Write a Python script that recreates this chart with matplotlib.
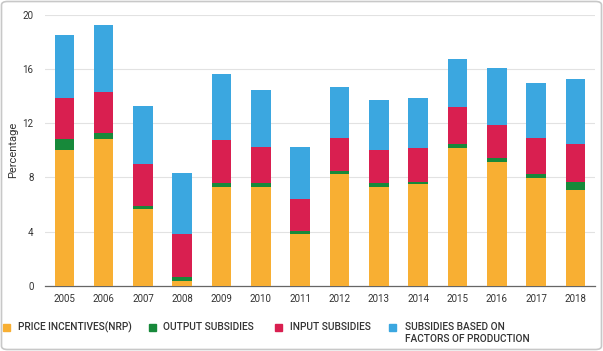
import matplotlib
matplotlib.use("Agg")
import matplotlib.pyplot as plt
import numpy as np
from matplotlib.patches import Rectangle, FancyBboxPatch

years = ["2005", "2006", "2007", "2008", "2009", "2010", "2011",
         "2012", "2013", "2014", "2015", "2016", "2017", "2018"]
price_incentives = [10.0, 10.85, 5.65, 0.37, 7.27, 7.27, 3.83,
                    8.23, 7.27, 7.49, 10.2, 9.16, 7.96, 7.1]
output_subsidies = [0.84, 0.45, 0.25, 0.27, 0.3, 0.3, 0.2,
                    0.27, 0.3, 0.18, 0.27, 0.27, 0.3, 0.57]
input_subsidies = [3.02, 3.0, 3.09, 3.19, 3.19, 2.7, 2.38,
                   2.43, 2.43, 2.5, 2.72, 2.46, 2.67, 2.8]
factor_subsidies = [4.67, 4.91, 4.3, 4.47, 4.87, 4.15, 3.86,
                    3.76, 3.69, 3.66, 3.54, 4.2, 4.03, 4.76]
series_labels = ["PRICE INCENTIVES(NRP)", "OUTPUT SUBSIDIES", "INPUT SUBSIDIES",
                 "SUBSIDIES BASED ON\nFACTORS OF PRODUCTION"]
colors = ["#F8AF33", "#17893A", "#D91F50", "#3BA7E0"]
yticks = [0, 4, 8, 12, 16, 20]

W, H = 603, 351
fig = plt.figure(figsize=(W / 100, H / 100), dpi=100)
plt.rcParams['font.family'] = ['Roboto', 'DejaVu Sans']

ax = fig.add_axes([44.7 / W, 1 - 286 / H, (595 - 44.7) / W, (286 - 14.7) / H])
x = np.arange(len(years))
bottom = np.zeros(len(years))
for vals, c in zip([price_incentives, output_subsidies, input_subsidies, factor_subsidies], colors):
    ax.bar(x, vals, width=0.5, bottom=bottom, color=c, zorder=3)
    bottom += np.array(vals)

ax.set_xlim(-0.5, len(years) - 0.5)
ax.set_ylim(0, 20)
ax.set_yticks(yticks)
ax.set_yticklabels([str(t) for t in yticks])
ax.set_xticks(x)
ax.set_xticklabels(years)
ax.tick_params(axis='both', length=0, labelsize=7, colors="#333333")
ax.tick_params(axis='y', pad=8)
ax.tick_params(axis='x', pad=6)
ax.grid(axis='y', color="#E2E2E2", linewidth=0.8, zorder=0)
for s in ["top", "right", "left"]:
    ax.spines[s].set_visible(False)
ax.spines["bottom"].set_color("#666666")
ax.spines["bottom"].set_linewidth(0.9)
ax.set_ylabel("Percentage", fontsize=8, color="#333333", labelpad=3)

# legend
leg_x = [3, 149, 275, 389]
text_x = [17.7, 163, 290, 405]
ly = 327
for lx, tx, c, lab in zip(leg_x, text_x, colors, series_labels):
    fig.patches.append(Rectangle((lx / W, 1 - (ly + 3.5) / H), 7 / W, 7 / H,
                                 transform=fig.transFigure, color=c, figure=fig))
    fig.text(tx / W, 1 - (ly - 5) / H, lab, fontsize=7.3, color="#333333",
             fontweight='medium', va='top', ha='left', linespacing=1.3)

# frame
fig.patches.append(FancyBboxPatch((1.5 / W, 1.5 / H), (W - 3) / W, (H - 3) / H,
                                  boxstyle="round,pad=0,rounding_size=0.01",
                                  transform=fig.transFigure, fill=False,
                                  edgecolor="#C8C8C8", linewidth=1.2, figure=fig))

fig.savefig("out.png", dpi=100)
